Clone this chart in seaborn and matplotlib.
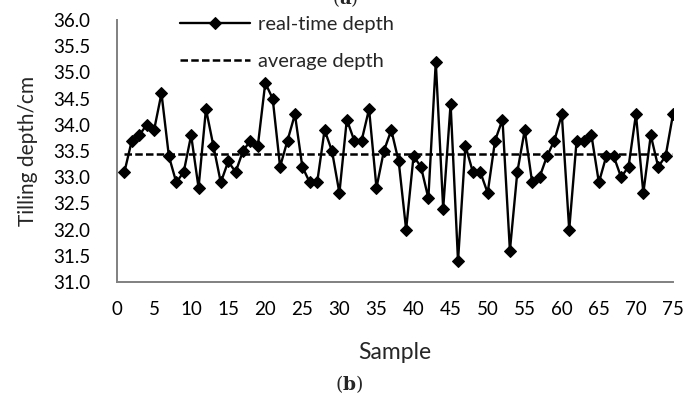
import matplotlib
matplotlib.use("Agg")
import matplotlib.pyplot as plt
import seaborn as sns
import pandas as pd

samples = list(range(1, 76))
depth = [33.1, 33.7, 33.8, 34.0, 33.9, 34.6, 33.4, 32.9, 33.1, 33.8,
         32.8, 34.3, 33.6, 32.9, 33.3, 33.1, 33.5, 33.7, 33.6, 34.8,
         34.5, 33.2, 33.7, 34.2, 33.2, 32.9, 32.9, 33.9, 33.5, 32.7,
         34.1, 33.7, 33.7, 34.3, 32.8, 33.5, 33.9, 33.3, 32.0, 33.4,
         33.2, 32.6, 35.2, 32.4, 34.4, 31.4, 33.6, 33.1, 33.1, 32.7,
         33.7, 34.1, 31.6, 33.1, 33.9, 32.9, 33.0, 33.4, 33.7, 34.2,
         32.0, 33.7, 33.7, 33.8, 32.9, 33.4, 33.4, 33.0, 33.2, 34.2,
         32.7, 33.8, 33.2, 33.4, 34.2]
avg_depth = 33.44
x_ticks = list(range(0, 80, 5))
y_ticks = [31.0, 31.5, 32.0, 32.5, 33.0, 33.5, 34.0, 34.5, 35.0, 35.5, 36.0]

df = pd.DataFrame({"Sample": samples, "depth": depth,
                   "avg": [avg_depth] * len(samples)})

sns.set_theme(style="white")
plt.rcParams["font.family"] = ["Lato", "DejaVu Sans"]

W, H = 685, 394
fig = plt.figure(figsize=(W / 100, H / 100), dpi=100)
ax = fig.add_axes([117 / W, 1 - 282 / H, (673 - 117) / W, (282 - 20) / H])

sns.lineplot(data=df, x="Sample", y="depth", ax=ax, color="black",
             linewidth=1.7, marker="D", markersize=6.3, markeredgecolor="black",
             label="real-time depth")
sns.lineplot(data=df, x="Sample", y="avg", ax=ax, color="black",
             linewidth=1.8, linestyle=(0, (3.0, 1.3)), label="average depth")

ax.set_xlim(0, 75)
ax.set_ylim(31.0, 36.0)
ax.set_xticks(x_ticks)
ax.set_yticks(y_ticks)
ax.set_yticklabels([f"{v:.1f}" for v in y_ticks])
ax.tick_params(axis="both", direction="in", length=7, width=1.2,
               colors="#808080", labelcolor="black", labelsize=13.5)
ax.tick_params(axis="y", pad=19)
ax.tick_params(axis="x", pad=14)
for s in ["top", "right"]:
    ax.spines[s].set_visible(False)
for s in ["left", "bottom"]:
    ax.spines[s].set_color("#808080")
    ax.spines[s].set_linewidth(1.4)

ax.set_xlabel("Sample", fontsize=16.5, labelpad=17)
ax.set_ylabel("Tilling depth/cm", fontsize=15, labelpad=11)

leg = ax.legend(loc="upper left", bbox_to_anchor=(180 / W, 1 - 16 / H),
                bbox_transform=fig.transFigure, frameon=False, fontsize=14.5,
                handlelength=3.5, handletextpad=0.35, labelspacing=1.0,
                borderpad=0, borderaxespad=0)

fig.text(349 / W, 1 - 390 / H, r"($\mathbf{b}$)", fontsize=13.5,
         family="DejaVu Serif", math_fontfamily="dejavuserif",
         ha="center", va="baseline")
fig.text(345 / W, 1 - 4 / H, r"($\mathbf{a}$)", fontsize=13,
         family="DejaVu Serif", math_fontfamily="dejavuserif",
         ha="center", va="baseline")

fig.savefig("out.png", dpi=100)
